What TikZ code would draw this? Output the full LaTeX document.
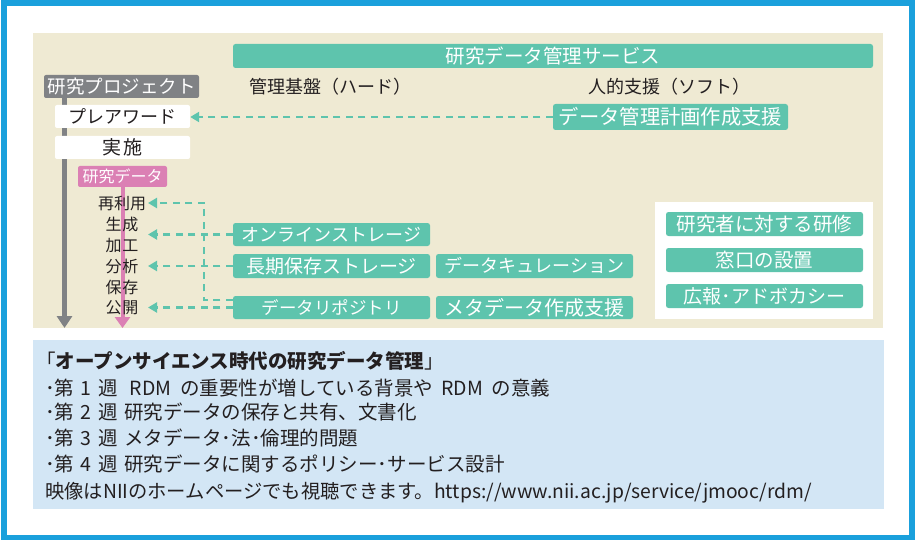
\documentclass[tikz,border=0pt]{standalone}
\usepackage{fontspec}
\setmainfont{Noto Sans CJK JP}
\usetikzlibrary{arrows.meta}
\definecolor{frameblue}{HTML}{1AA0DC}
\definecolor{beigebg}{HTML}{EFEAD3}
\definecolor{lightbluebg}{HTML}{D3E6F5}
\definecolor{svcgreen}{HTML}{5EC4AD}
\definecolor{projgray}{HTML}{808285}
\definecolor{datapink}{HTML}{DB80B4}
\definecolor{ink}{HTML}{231F20}
\tikzset{
  jp/.code={%
    \pgfmathsetlengthmacro\jpht{0.88*#1pt}%
    \pgfmathsetlengthmacro\jpdp{0.12*#1pt}%
    \edef\jptmp{\noexpand\tikzset{font=\noexpand\fontsize{#1pt}{#1pt}\noexpand\selectfont, text height=\jpht, text depth=\jpdp}}\jptmp},
  gbox/.style={fill=svcgreen, text=white, rounded corners=2.5pt, inner sep=0pt},
  wbox/.style={fill=white, text=ink, rounded corners=2pt, inner sep=0pt},
  lbl/.style={text=ink, inner sep=0pt},
  dline/.style={svcgreen, line width=2.3pt, dash pattern=on 7pt off 5.5pt,
    -{Triangle[length=9pt,width=10pt]}},
}
\begin{document}
\begin{tikzpicture}[x=1pt,y=-1pt]
\useasboundingbox (0,0) rectangle (915,540);
\fill[white] (0,0) rectangle (915,540);
\draw[frameblue, line width=6pt] (3.5,3) rectangle (912,537.5);
\fill[beigebg] (33,33) rectangle (883,328);
\fill[lightbluebg] (33,340) rectangle (884,509);

% top service bar
\node[gbox, minimum width=640pt, minimum height=24pt, jp=19.5] (svc) at (553,56) {研究データ管理サービス};
\node[lbl, jp=18] (hard) at (330,87) {管理基盤（ハード）};
\node[lbl, jp=18] (soft) at (669,87) {人的支援（ソフト）};

% research project column
\node[fill=projgray, text=white, rounded corners=2pt, inner sep=0pt, minimum width=155pt, minimum height=23pt, jp=18.5] (proj) at (121.5,86.5) {研究プロジェクト};
\coordinate (gtip) at (64.5,328);
\draw[projgray, line width=5pt, -{Triangle[length=12pt,width=15pt]}] (proj.south -| gtip) -- (gtip);
\node[wbox, minimum width=135pt, minimum height=23pt, jp=18] (prea) at (122.5,116.5) {プレアワード};
\node[wbox, minimum width=135pt, minimum height=23pt, jp=19] (jisshi) at (122.5,147.5) {実\kern2pt 施};

\node[fill=datapink, text=white, rounded corners=2pt, inner sep=0pt, minimum width=89pt, minimum height=21pt, jp=16] (pink) at (122.5,176.5) {研究データ};
\coordinate (ptip) at (122.5,328);
\draw[datapink, line width=4pt, -{Triangle[length=11pt,width=15pt]}] (pink.south) -- (ptip);

\node[lbl, jp=16] (saiyo) at (122,203) {再利用};
\node[lbl, jp=16] (seisei) at (122,224) {生\kern1pt 成};
\node[lbl, jp=16] (kako) at (122,245) {加\kern1pt 工};
\node[lbl, jp=16] (bunseki) at (122,266) {分\kern1pt 析};
\node[lbl, jp=16] (hozon) at (122,287) {保\kern1pt 存};
\node[lbl, jp=16] (kokai) at (122,307) {公\kern1pt 開};

% infrastructure boxes
\node[gbox, minimum width=197pt, minimum height=23pt, jp=18] (online) at (331.5,234.5) {オンラインストレージ};
\node[gbox, minimum width=197pt, minimum height=24pt, jp=19] (choki) at (331.5,266) {長期保存ストレージ};
\node[gbox, minimum width=197pt, minimum height=24pt, jp=18] (curation) at (534.5,266) {データキュレーション};
\node[gbox, minimum width=197pt, minimum height=23pt, jp=17.5] (repo) at (331.5,307.5) {データリポジトリ};
\node[gbox, minimum width=197pt, minimum height=23pt, jp=20] (meta) at (534.5,307.5) {メタデータ作成支援};

\node[gbox, minimum width=235pt, minimum height=26pt, jp=20.3] (dmp) at (670.5,117) {データ管理計画作成支援};

% human support panel
\node[fill=white, inner sep=0pt, minimum width=218pt, minimum height=117pt] (panel) at (764,260.5) {};
\node[gbox, minimum width=197pt, minimum height=24pt, jp=19.5] (kenshu) at (764.5,224) {研究者に対する研修};
\node[gbox, minimum width=197pt, minimum height=24pt, jp=19.5] (madoguchi) at (764.5,260) {窓口の設置};
\node[gbox, minimum width=197pt, minimum height=24pt, jp=19] (koho) at (764.5,296) {広報･アドボカシー};

% dashed connectors
\draw[dline] (dmp.west) -- (prea.east |- dmp.west);
\coordinate (t2) at (148,234.5);
\draw[dline] (online.west) -- (t2);
\coordinate (t3) at (148,266);
\draw[dline] (choki.west) -- (t3);
\coordinate (t4) at (148,307.5);
\draw[dline] (repo.west) -- (t4);
\coordinate (bend1) at (204,300);
\coordinate (bend2) at (204,203);
\coordinate (t1) at (148,203);
\draw[dline] (repo.west |- bend1) -- (bend1) -- (bend2) -- (t1);

% bottom text
\node[lbl, anchor=west, jp=19.5] (title) at (36,361) {「{\bfseries オープンサイエンス時代の研究データ管理}」};
\node[lbl, anchor=west, jp=19.5] (w1) at (45,388) {\spaceskip=6.5pt ･第 1 週\hspace{12pt}RDM\hspace{9pt}の重要性が増している背景や\hspace{8pt}RDM\hspace{9pt}の意義};
\node[lbl, anchor=west, jp=19.5] (w2) at (45,412) {\spaceskip=6.5pt ･第 2 週 研究データの保存と共有、文書化};
\node[lbl, anchor=west, jp=19.5] (w3) at (45,438) {\spaceskip=6.5pt ･第 3 週 メタデータ･法･倫理的問題};
\node[lbl, anchor=west, jp=19.5] (w4) at (45,464) {\spaceskip=6.5pt ･第 4 週 研究データに関するポリシー･サービス設計};
\node[lbl, anchor=west, jp=19.3] (w5) at (45,491) {映像はNIIのホームページでも視聴できます。https://www.nii.ac.jp/service/jmooc/rdm/};
\end{tikzpicture}
\end{document}
